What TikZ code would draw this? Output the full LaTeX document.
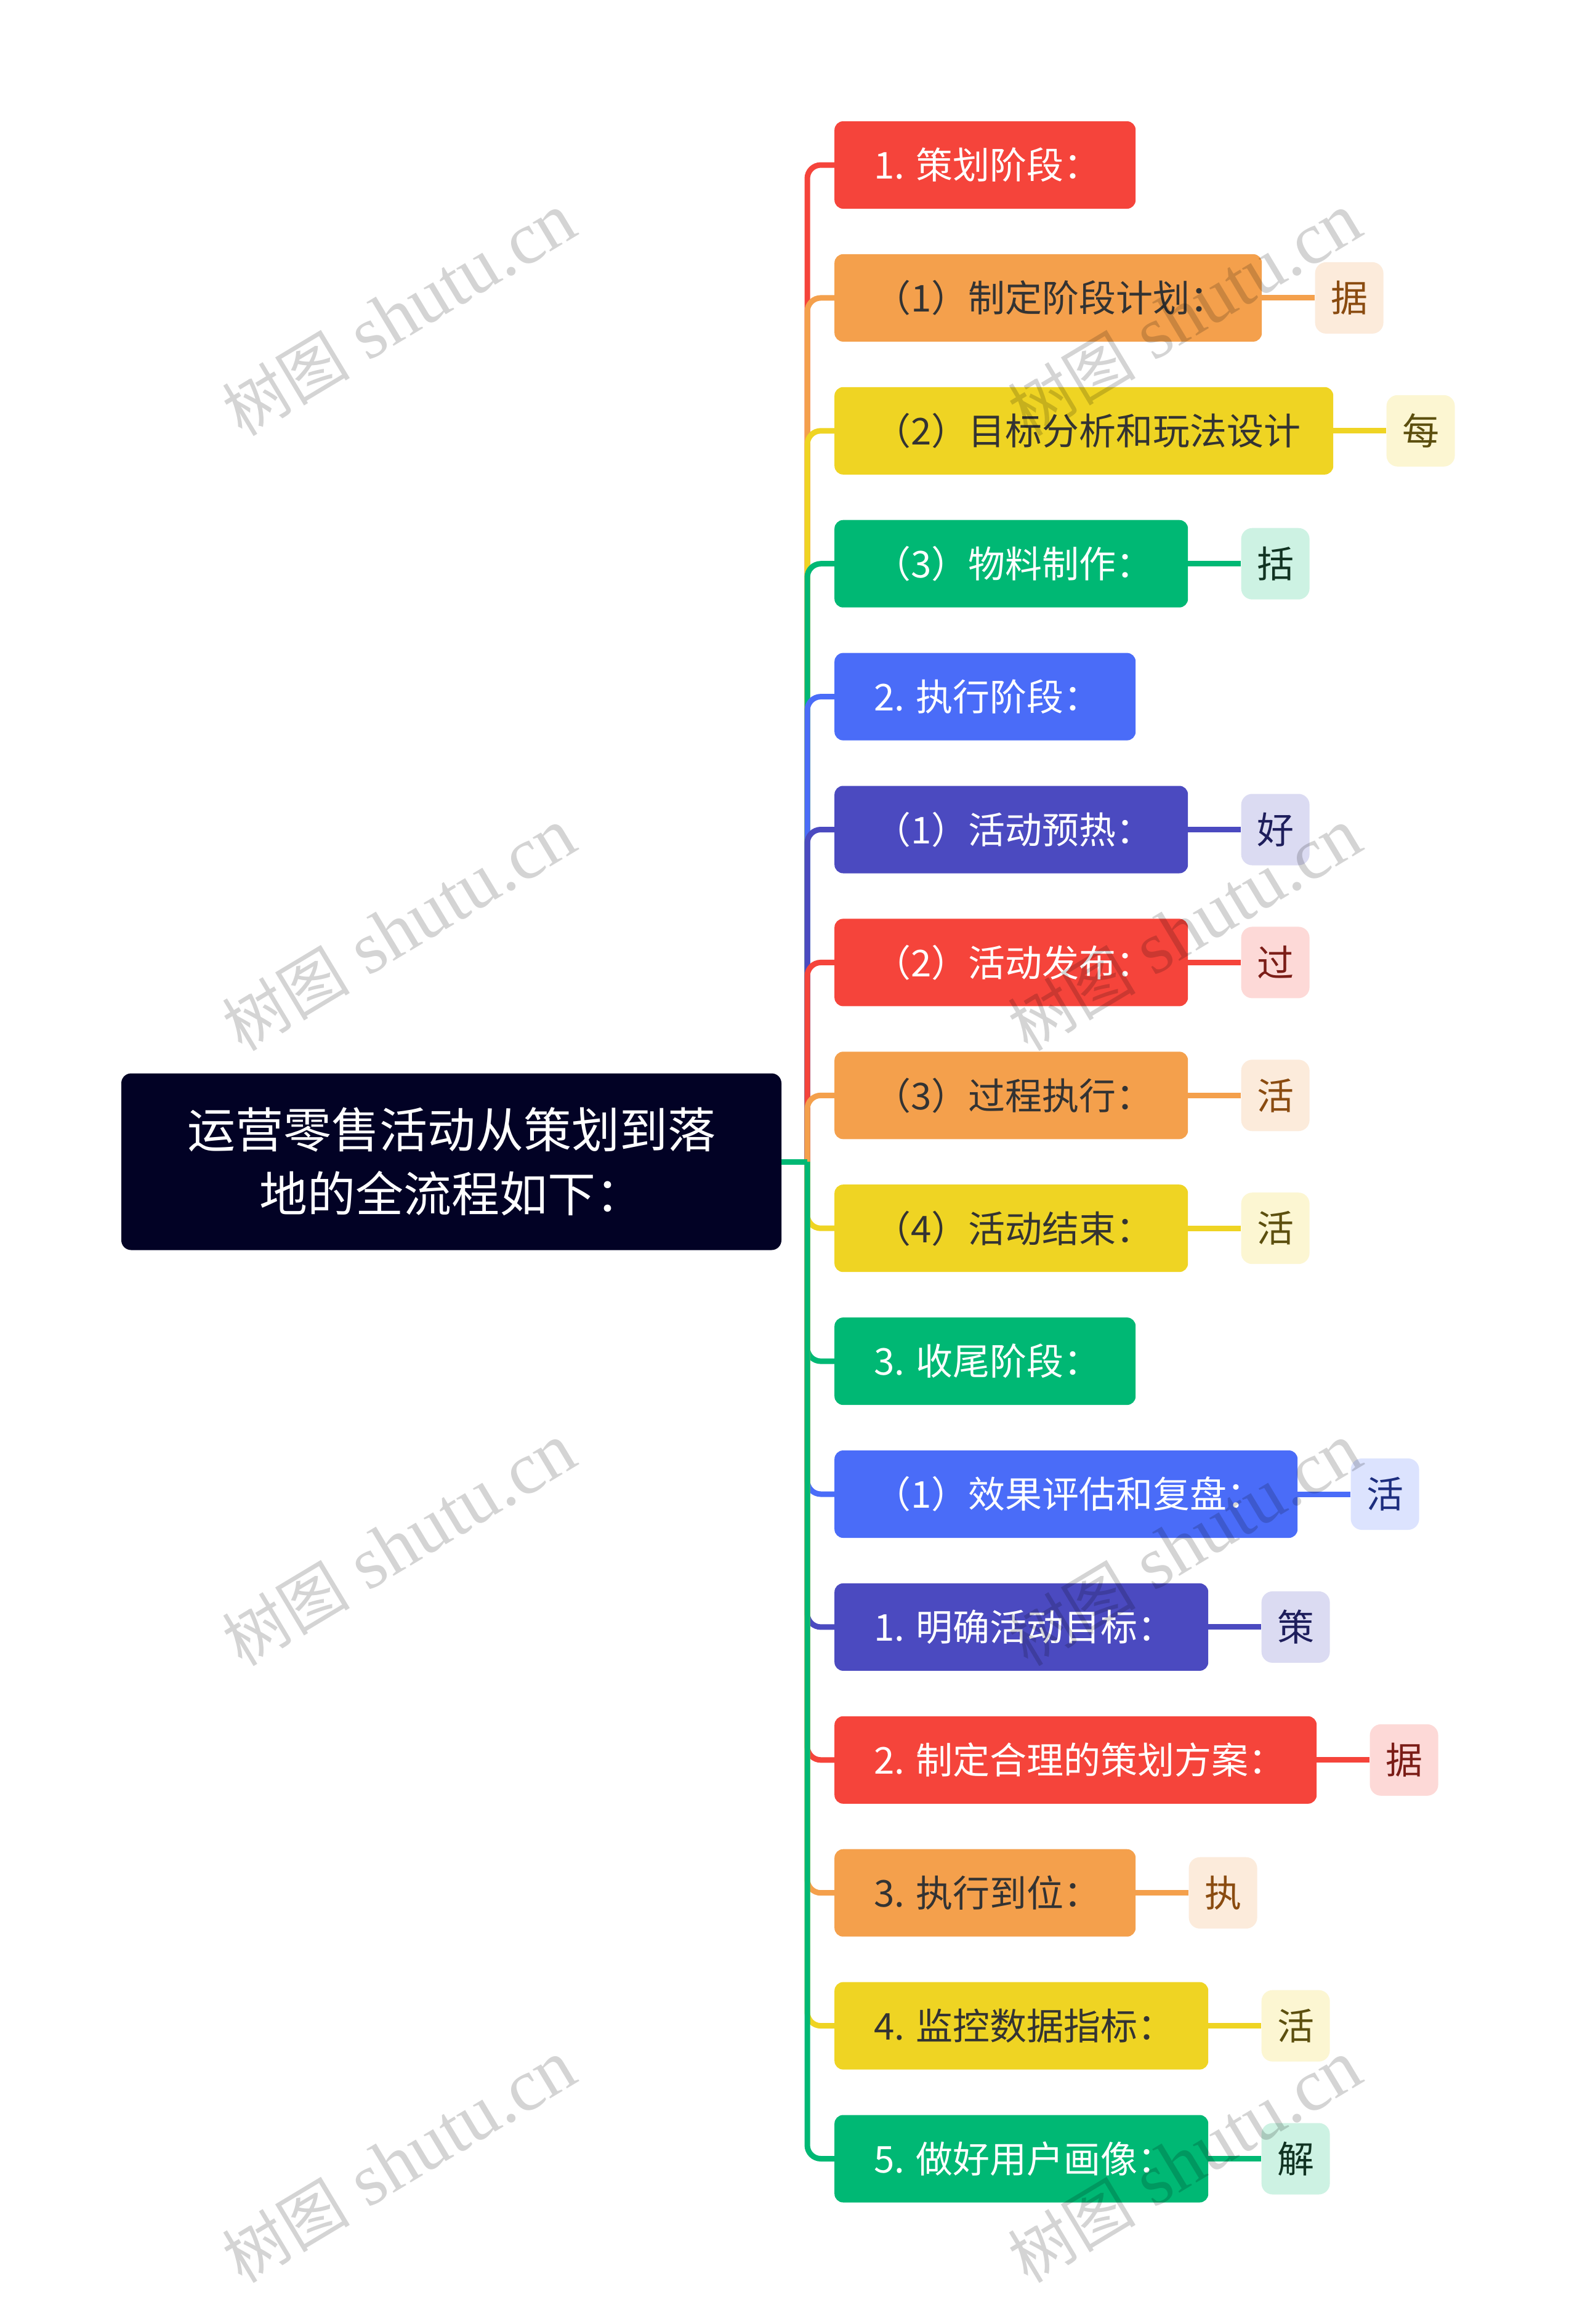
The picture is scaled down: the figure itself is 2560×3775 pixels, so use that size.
\documentclass[tikz,border=0pt]{standalone}
\usepackage{fontspec}
\newfontfamily\cjk{Noto Sans CJK SC}
\newfontfamily\wmserif{Liberation Serif}
\definecolor{cRed}{HTML}{F5443B}
\definecolor{cOrange}{HTML}{F4A04C}
\definecolor{cYellow}{HTML}{EFD423}
\definecolor{cGreen}{HTML}{00B874}
\definecolor{cBlue}{HTML}{4A6CF8}
\definecolor{cIndigo}{HTML}{4B4AC0}
\definecolor{fRed}{HTML}{FDD9D7}
\definecolor{xRed}{HTML}{7B1D17}
\definecolor{fOrange}{HTML}{FCEBDB}
\definecolor{xOrange}{HTML}{8A4B10}
\definecolor{fYellow}{HTML}{FCF6D2}
\definecolor{xYellow}{HTML}{5C4F0E}
\definecolor{fGreen}{HTML}{CDF2E3}
\definecolor{xGreen}{HTML}{113322}
\definecolor{fBlue}{HTML}{DCE3FE}
\definecolor{xBlue}{HTML}{1C2D7E}
\definecolor{fIndigo}{HTML}{DBDBF2}
\definecolor{xIndigo}{HTML}{1E1E5C}
\definecolor{rootfill}{HTML}{020225}
\definecolor{darktext}{HTML}{333333}
\newcommand\lbl[2]{\makebox[#1pt][l]{#2}}
\begin{document}
\begin{tikzpicture}[x=1pt,y=-1pt,
  conn/.style={line width=9pt},
  box/.style={rounded corners=14pt, minimum height=142pt, inner xsep=64pt, inner ysep=0pt, anchor=west, font=\cjk\fontsize{60}{72}\selectfont},
  redbox/.style={box, fill=cRed, text=white},
  orangebox/.style={box, fill=cOrange, text=darktext},
  yellowbox/.style={box, fill=cYellow, text=darktext},
  greenbox/.style={box, fill=cGreen, text=white},
  bluebox/.style={box, fill=cBlue, text=white},
  indigobox/.style={box, fill=cIndigo, text=white},
  tagbox/.style={rounded corners=18pt, minimum width=111pt, minimum height=116pt, inner sep=0pt, anchor=west, font=\cjk\fontsize{60}{72}\selectfont},
  redtag/.style={tagbox, fill=fRed, text=xRed},
  orangetag/.style={tagbox, fill=fOrange, text=xOrange},
  yellowtag/.style={tagbox, fill=fYellow, text=xYellow},
  greentag/.style={tagbox, fill=fGreen, text=xGreen},
  bluetag/.style={tagbox, fill=fBlue, text=xBlue},
  indigotag/.style={tagbox, fill=fIndigo, text=xIndigo},
  wm/.style={rotate=31, text=black, text opacity=0.17, inner sep=0pt},
  branch/.style={conn, rounded corners=22pt}
]
\useasboundingbox (0,0) rectangle (2560,3775);
\fill[white] (0,0) rectangle (2560,3775);

% root
\node[rounded corners=16pt, fill=rootfill, text=white, minimum width=1072pt, minimum height=287pt, inner sep=0pt, align=center, font=\cjk\fontsize{78}{104}\selectfont] (root) at (733,1887) {运营零售活动从策划到落\\地的全流程如下：};
\coordinate (J) at (1311,1887);

% child nodes
\node[redbox] (n1) at (1355,268) {\lbl{361}{1. 策划阶段：}};
\node[orangebox] (n2) at (1355,483.9) {\lbl{566}{（1）制定阶段计划：}};
\node[yellowbox] (n3) at (1355,699.8) {\lbl{682}{（2）目标分析和玩法设计}};
\node[greenbox] (n4) at (1355,915.7) {\lbl{446}{（3）物料制作：}};
\node[bluebox] (n5) at (1355,1131.6) {\lbl{361}{2. 执行阶段：}};
\node[indigobox] (n6) at (1355,1347.5) {\lbl{446}{（1）活动预热：}};
\node[redbox] (n7) at (1355,1563.4) {\lbl{446}{（2）活动发布：}};
\node[orangebox] (n8) at (1355,1779.3) {\lbl{446}{（3）过程执行：}};
\node[yellowbox] (n9) at (1355,1995.2) {\lbl{446}{（4）活动结束：}};
\node[greenbox] (n10) at (1355,2211.1) {\lbl{361}{3. 收尾阶段：}};
\node[bluebox] (n11) at (1355,2427) {\lbl{624}{（1）效果评估和复盘：}};
\node[indigobox] (n12) at (1355,2642.9) {\lbl{479}{1. 明确活动目标：}};
\node[redbox] (n13) at (1355,2858.8) {\lbl{655}{2. 制定合理的策划方案：}};
\node[orangebox] (n14) at (1355,3074.7) {\lbl{361}{3. 执行到位：}};
\node[yellowbox] (n15) at (1355,3290.6) {\lbl{479}{4. 监控数据指标：}};
\node[greenbox] (n16) at (1355,3506.5) {\lbl{479}{5. 做好用户画像：}};

% tags
\node[orangetag] (t2) at ([xshift=86pt]n2.east) {据};
\node[yellowtag] (t3) at ([xshift=86pt]n3.east) {每};
\node[greentag] (t4) at ([xshift=86pt]n4.east) {括};
\node[indigotag] (t6) at ([xshift=86pt]n6.east) {好};
\node[redtag] (t7) at ([xshift=86pt]n7.east) {过};
\node[orangetag] (t8) at ([xshift=86pt]n8.east) {活};
\node[yellowtag] (t9) at ([xshift=86pt]n9.east) {活};
\node[bluetag] (t11) at ([xshift=86pt]n11.east) {活};
\node[indigotag] (t12) at ([xshift=86pt]n12.east) {策};
\node[redtag] (t13) at ([xshift=86pt]n13.east) {据};
\node[orangetag] (t14) at ([xshift=86pt]n14.east) {执};
\node[yellowtag] (t15) at ([xshift=86pt]n15.east) {活};
\node[greentag] (t16) at ([xshift=86pt]n16.east) {解};

% branches (drawn in order so later ones overlay)
\draw[branch, cRed] (J) |- (n1.west);
\draw[branch, cOrange] (J) |- (n2.west);
\draw[branch, cYellow] (J) |- (n3.west);
\draw[branch, cGreen] (J) |- (n4.west);
\draw[branch, cBlue] (J) |- (n5.west);
\draw[branch, cIndigo] (J) |- (n6.west);
\draw[branch, cRed] (J) |- (n7.west);
\draw[branch, cOrange] (J) |- (n8.west);
\draw[branch, cYellow] (J) |- (n9.west);
\draw[branch, cGreen] (J) |- (n10.west);
\draw[branch, cBlue] (J) |- (n11.west);
\draw[branch, cIndigo] (J) |- (n12.west);
\draw[branch, cRed] (J) |- (n13.west);
\draw[branch, cOrange] (J) |- (n14.west);
\draw[branch, cYellow] (J) |- (n15.west);
\draw[branch, cGreen] (J) |- (n16.west);
\draw[conn, cGreen] (root.east) -- (J);

% node to tag connectors
\draw[conn, cOrange] (n2.east) -- (t2.west);
\draw[conn, cYellow] (n3.east) -- (t3.west);
\draw[conn, cGreen] (n4.east) -- (t4.west);
\draw[conn, cIndigo] (n6.east) -- (t6.west);
\draw[conn, cRed] (n7.east) -- (t7.west);
\draw[conn, cOrange] (n8.east) -- (t8.west);
\draw[conn, cYellow] (n9.east) -- (t9.west);
\draw[conn, cBlue] (n11.east) -- (t11.west);
\draw[conn, cIndigo] (n12.east) -- (t12.west);
\draw[conn, cRed] (n13.east) -- (t13.west);
\draw[conn, cOrange] (n14.east) -- (t14.west);
\draw[conn, cYellow] (n15.east) -- (t15.west);
\draw[conn, cGreen] (n16.east) -- (t16.west);

% watermarks
\foreach \wx/\wy/\k in {648/511/1, 648/1510/2, 648/2509/3, 648/3511/4, 1924/511/5, 1924/1510/6, 1924/2509/7, 1924/3511/8} {
  \node[wm] (wm\k) at (\wx,\wy) {{\cjk\fontsize{104}{104}\selectfont 树图}\hspace{30pt}{\wmserif\fontsize{120}{120}\selectfont shutu.cn}};
}
\end{tikzpicture}
\end{document}
